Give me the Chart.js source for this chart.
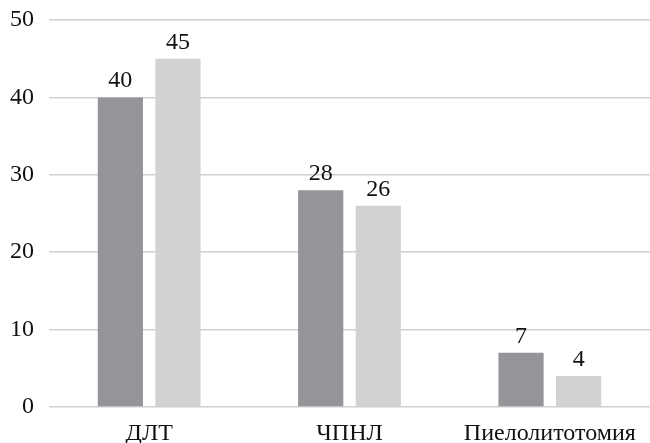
<!DOCTYPE html>
<html><head><meta charset="utf-8">
<script src="https://cdn.jsdelivr.net/npm/chart.js@4"></script>
<style>html,body{margin:0;padding:0;background:#fff}#w{width:650px;height:443px}</style>
</head><body><div id="w"><canvas id="c"></canvas></div>
<script>
const categories = ["ДЛТ", "ЧПНЛ", "Пиелолитотомия"];
const series1 = [40, 28, 7];
const series2 = [45, 26, 4];
const yTicks = [0, 10, 20, 30, 40, 50];

const FONT = "'Liberation Serif', 'Times New Roman', serif";
const FSIZE = 24;
Chart.defaults.font.family = FONT;

const valueLabels = {
  id: 'valueLabels',
  afterDatasetsDraw(chart) {
    const ctx = chart.ctx;
    ctx.save();
    ctx.font = FSIZE + "px " + FONT;
    ctx.fillStyle = "#111";
    ctx.textAlign = "center";
    ctx.textBaseline = "alphabetic";
    chart.data.datasets.forEach((ds, i) => {
      chart.getDatasetMeta(i).data.forEach((bar, j) => {
        ctx.fillText(String(ds.data[j]), bar.x, bar.y - 10);
      });
    });
    ctx.restore();
  }
};

new Chart(document.getElementById('c'), {
  type: 'bar',
  data: {
    labels: categories,
    datasets: [
      { data: series1, backgroundColor: '#939598' },
      { data: series2, backgroundColor: '#d1d2d4' }
    ]
  },
  options: {
    responsive: true,
    maintainAspectRatio: false,
    animation: false,
    layout: { padding: { top: 0, right: 0, left: 0, bottom: 0 } },
    plugins: { legend: { display: false }, tooltip: { enabled: false } },
    datasets: { bar: { categoryPercentage: 0.575, barPercentage: 0.785 } },
    scales: {
      x: {
        afterFit(s) { s.height = 36; },
        grid: { display: false, drawTicks: false },
        border: { display: false },
        ticks: { color: '#111', font: { family: FONT, size: FSIZE }, padding: 12, maxRotation: 0 }
      },
      y: {
        min: 0, max: 50,
        afterFit(s) { s.width = 49; s.paddingTop = 20; s.paddingBottom = 0; },
        afterBuildTicks(s) { s.ticks = yTicks.map(v => ({ value: v })); },
        grid: { color: '#d0d0d0', lineWidth: 1.5, drawTicks: false },
        border: { display: false },
        ticks: { color: '#111', font: { family: FONT, size: FSIZE }, padding: 15 }
      }
    }
  },
  plugins: [valueLabels]
});
</script>
</body></html>
